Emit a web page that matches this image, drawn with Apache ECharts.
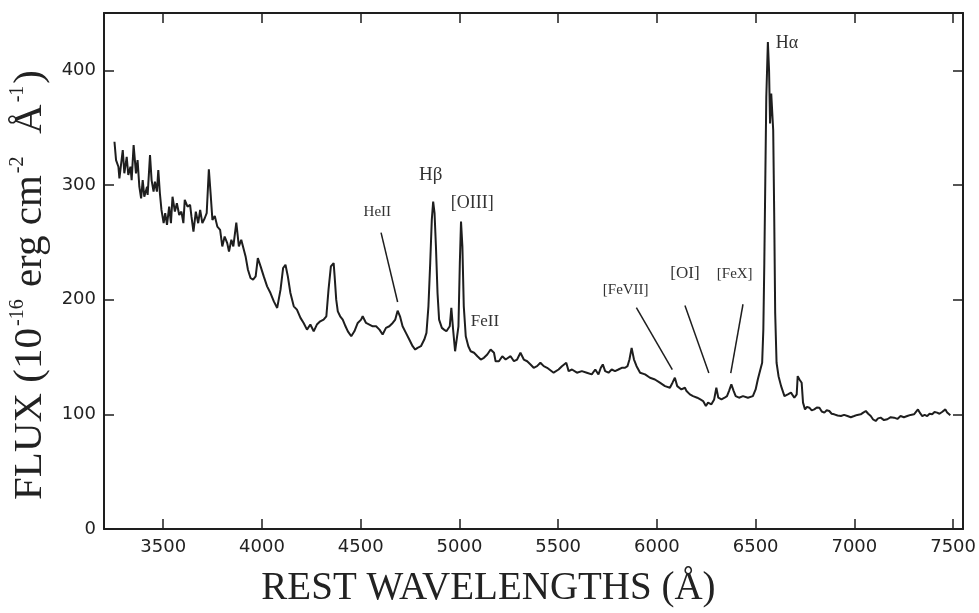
<!DOCTYPE html>
<html>
<head>
<meta charset="utf-8">
<script src="https://cdn.jsdelivr.net/npm/echarts@6/dist/echarts.min.js"></script>
<style>
  html, body { margin: 0; padding: 0; background: #fff; }
  #chart { width: 979px; height: 613px; }
</style>
</head>
<body>
<div id="chart"></div>
<script>
// spectrum: rest wavelength (Å) and flux (1e-16 erg cm-2 s-1 Å-1)
const wavelength = [
  3253, 3261, 3273, 3278, 3295, 3303, 3315, 3323, 3334, 3340, 3350, 3362, 3370, 3379, 3388, 3396,
  3404, 3418, 3421, 3433, 3441, 3451, 3458, 3468, 3475, 3483, 3491, 3502, 3510, 3519, 3530, 3539,
  3547, 3559, 3569, 3581, 3592, 3602, 3609, 3623, 3636, 3643, 3653, 3665, 3677, 3687, 3698, 3710,
  3720, 3731, 3741, 3749, 3761, 3774, 3788, 3799, 3811, 3824, 3833, 3845, 3855, 3870, 3883, 3895,
  3905, 3917, 3929, 3942, 3955, 3968, 3979, 3993, 4009, 4026, 4043, 4060, 4077, 4094, 4107, 4119,
  4131, 4144, 4161, 4177, 4195, 4211, 4228, 4245, 4262, 4278, 4295, 4312, 4326, 4337, 4349, 4363,
  4368, 4376, 4384, 4396, 4409, 4423, 4435, 4452, 4468, 4485, 4502, 4510, 4527, 4544, 4561, 4578,
  4595, 4611, 4628, 4645, 4662, 4675, 4687, 4699, 4712, 4729, 4746, 4763, 4776, 4788, 4805, 4822,
  4833, 4843, 4852, 4860, 4867, 4874, 4881, 4889, 4897, 4911, 4922, 4934, 4944, 4951, 4959, 4968,
  4978, 4986, 4995, 5002, 5008, 5015, 5022, 5032, 5045, 5057, 5074, 5091, 5108, 5124, 5141, 5158,
  5175, 5183, 5200, 5217, 5234, 5259, 5276, 5292, 5309, 5326, 5343, 5360, 5376, 5393, 5410, 5427,
  5444, 5477, 5502, 5519, 5541, 5553, 5570, 5595, 5620, 5645, 5670, 5688, 5704, 5716, 5726, 5738,
  5755, 5771, 5788, 5805, 5822, 5839, 5851, 5861, 5872, 5884, 5897, 5915, 5940, 5965, 5990, 6015,
  6041, 6066, 6079, 6091, 6103, 6124, 6142, 6150, 6167, 6183, 6204, 6220, 6234, 6248, 6259, 6276,
  6290, 6301, 6311, 6327, 6343, 6355, 6365, 6377, 6389, 6399, 6416, 6436, 6461, 6486, 6500, 6511,
  6524, 6533, 6539, 6544, 6549, 6554, 6562, 6568, 6573, 6579, 6584, 6589, 6594, 6599, 6606, 6616,
  6629, 6646, 6663, 6679, 6696, 6708, 6713, 6722, 6727, 6733, 6740,
  6750, 6760, 6772, 6784, 6797, 6810, 6823, 6835, 6848, 6860, 6873, 6885, 6898, 6915, 6932, 6948,
  6965, 6982, 6999, 7015, 7032, 7045, 7058, 7070, 7083, 7095, 7108, 7120, 7133, 7150, 7167, 7184,
  7201, 7218, 7234, 7251, 7268, 7285, 7302, 7312, 7322, 7333, 7344, 7356, 7369, 7381, 7394, 7406,
  7419, 7431, 7444, 7452, 7461, 7470, 7478, 7486
];
const flux = [
  337.7, 321.7, 315.9, 305.8, 330.4, 310.2, 324.6, 308.7, 316.0, 304.3, 334.8, 310.2, 321.7, 298.5, 288.4, 304.3,
  289.8, 298.5, 291.3, 326.1, 304.3, 294.2, 302.9, 294.2, 313.0, 292.8, 278.3, 266.7, 275.4, 265.2, 281.1, 266.7,
  289.8, 276.8, 284.1, 273.9, 276.8, 266.7, 287.0, 281.1, 282.6, 272.4, 259.4, 276.8, 266.7, 278.3, 266.7, 271.0,
  275.4, 313.7, 289.8, 269.6, 273.0, 263.7, 260.9, 246.4, 255.0, 249.3, 242.0, 252.2, 246.4, 267.2, 246.4, 252.2,
  253.7, 237.7, 226.1, 218.9, 217.4, 220.3, 236.3, 229.0, 220.3, 211.6, 205.8, 198.5, 192.8, 208.7, 227.6, 230.4,
  220.3, 205.8, 194.2, 191.3, 184.1, 179.7, 173.9, 178.3, 172.4, 178.3, 181.1, 182.6, 185.5, 208.7, 229.0, 231.9,
  220.3, 200.0, 189.8, 185.5, 182.6, 176.8, 172.4, 168.1, 172.4, 179.7, 182.6, 185.5, 179.7, 178.3, 176.8, 176.8,
  173.9, 169.6, 175.4, 176.8, 179.7, 182.6, 190.4, 185.5, 176.8, 171.0, 165.2, 159.4, 156.5, 158.0, 159.4, 165.2,
  171.0, 194.2, 231.9, 269.6, 285.5, 275.4, 246.4, 205.8, 182.6, 175.4, 173.9, 172.4, 171.0, 176.8, 192.8, 173.9,
  155.0, 153.7, 176.8, 231.9, 268.1, 246.4, 194.2, 168.1, 159.4, 155.0, 153.7, 150.7, 147.8, 149.3, 152.2, 156.5,
  153.7, 146.3, 146.3, 150.7, 147.8, 150.7, 146.3, 147.8, 153.7, 147.8, 146.3, 143.5, 140.6, 142.0, 145.0, 142.0,
  140.6, 136.3, 139.1, 142.0, 145.0, 137.7, 139.1, 136.3, 137.7, 136.3, 134.8, 139.1, 134.8, 140.6, 143.5, 137.7,
  136.3, 139.1, 137.7, 139.1, 140.6, 140.6, 142.0, 147.8, 158.0, 147.8, 142.0, 136.3, 134.8, 131.9, 130.4, 127.6,
  124.6, 123.2, 127.6, 131.9, 124.6, 121.7, 123.2, 120.3, 117.4, 115.9, 114.5, 113.0, 111.6, 107.2, 110.2, 108.7,
  113.0, 123.2, 114.5, 113.0, 114.5, 115.9, 120.3, 126.1, 120.3, 115.9, 114.5, 115.9, 114.5, 115.9, 121.7, 130.4,
  139.1, 145.0, 173.9, 231.9, 304.3, 376.8, 424.6, 400.0, 353.7, 379.7, 381.1, 347.8, 275.4, 188.4, 145.0, 133.3,
  124.6, 115.9, 117.4, 118.9, 114.5, 117.4, 133.3, 130.4, 131.9, 127.6, 110.2,
  104.3, 106.5, 105.8, 103.5, 104.3, 106.0, 105.8, 102.5, 101.5, 103.5, 102.9, 100.5, 100.0, 99.0, 98.5, 99.5,
  98.5, 97.5, 98.5, 99.5, 100.0, 101.5, 102.9, 100.5, 98.5, 95.5, 94.2, 96.5, 97.1, 95.0, 95.7, 97.5,
  97.1, 96.0, 98.5, 97.5, 98.5, 99.5, 100.0, 101.5, 104.3, 101.0, 98.5, 99.5, 98.5, 100.5, 100.0, 102.0,
  101.5, 100.5, 102.0, 103.5, 104.3, 101.5, 100.0, 99.1
];

const xTicks = [3500, 4000, 4500, 5000, 5500, 6000, 6500, 7000, 7500];
const yTicks = [0, 100, 200, 300, 400];

// line identifications: label text and its position in data units
const lineLabels = ['HeII', 'H\u03b2', '[OIII]', 'FeII', '[FeVII]', '[OI]', '[FeX]', 'H\u03b1'];
const labelAt = [[4584, 276], [4855, 309], [5065, 284], [5129, 181], [5842, 208], [6142, 223], [6394, 222], [6659, 424]];
const labelSize = [15, 19, 18, 17, 15, 17, 15, 18];
// pointer segments from label to feature
const pointerFrom = [[4603, 258.5], [5896, 193], [6142, 195], [6436, 196]];
const pointerTo = [[4687, 198], [6078, 139], [6263, 136], [6374, 136]];

const points = wavelength.map((w, i) => [w, flux[i]]);

const ink = '#1e1e1e';
const tickFont = { fontFamily: 'DejaVu Sans', fontSize: 18, color: '#222', formatter: v => String(v) };

const axisCommon = {
  axisLine: { show: true, onZero: false, lineStyle: { color: ink, width: 2 } },
  axisTick: { show: true, inside: true, length: 10, lineStyle: { color: ink, width: 1.5 } },
  splitLine: { show: false }
};

const chart = echarts.init(document.getElementById('chart'));

const option = {
  animation: false,
  backgroundColor: '#fff',
  grid: { left: 104, right: 13, top: 13, bottom: 83 },
  xAxis: [
    {
      ...axisCommon,
      type: 'value',
      min: 3200,
      max: 7550,
      axisTick: { ...axisCommon.axisTick, customValues: xTicks },
      axisLabel: { ...tickFont, margin: 9, customValues: xTicks },
      name: 'REST WAVELENGTHS (\u00c5)',
      nameLocation: 'middle',
      nameGap: 40,
      nameTextStyle: {
        fontFamily: 'Liberation Serif',
        fontSize: 39,
        color: '#222',
        padding: [0, 90, 0, 0]
      }
    },
    {
      ...axisCommon,
      type: 'value',
      position: 'top',
      min: 3200,
      max: 7550,
      axisTick: { ...axisCommon.axisTick, customValues: xTicks },
      axisLabel: { show: false }
    }
  ],
  yAxis: [
    {
      ...axisCommon,
      type: 'value',
      min: 0,
      max: 450,
      axisTick: { ...axisCommon.axisTick, customValues: yTicks },
      axisLabel: { ...tickFont, margin: 8, customValues: yTicks },
      name: '{b|FLUX (10}{s|-16}{b| erg cm}{s|-2}{b|  \u00c5}{s|-1}{b|)}',
      nameLocation: 'middle',
      nameGap: 35,
      nameTextStyle: {
        padding: [0, 28, 0, 0],
        rich: {
          b: { fontFamily: 'Liberation Serif', fontSize: 41, color: '#222' },
          s: { fontFamily: 'Liberation Serif', fontSize: 20, color: '#222', verticalAlign: 'top', padding: [0, 2, 24, 2] }
        }
      }
    },
    {
      ...axisCommon,
      type: 'value',
      position: 'right',
      min: 0,
      max: 450,
      axisTick: { ...axisCommon.axisTick, customValues: yTicks },
      axisLabel: { show: false }
    }
  ],
  series: [
    {
      type: 'line',
      data: points,
      showSymbol: false,
      symbol: 'none',
      lineStyle: { color: ink, width: 2 },
      markLine: {
        silent: true,
        symbol: 'none',
        label: { show: false },
        lineStyle: { color: ink, width: 1.5, type: 'solid' },
        data: pointerFrom.map((p, i) => [{ coord: p }, { coord: pointerTo[i] }])
      },
      markPoint: {
        silent: true,
        symbol: 'circle',
        symbolSize: 1,
        itemStyle: { color: 'rgba(0,0,0,0)' },
        data: lineLabels.map((t, i) => ({
          coord: labelAt[i],
          label: {
            show: true,
            position: 'inside',
            formatter: t,
            fontFamily: 'Liberation Serif',
            fontSize: labelSize[i],
            color: '#333'
          }
        }))
      }
    }
  ]
};

chart.setOption(option);
</script>
</body>
</html>
